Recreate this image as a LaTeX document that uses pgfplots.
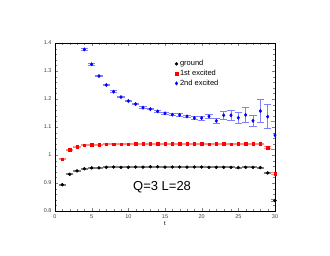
\documentclass[border=0pt]{standalone}
\usepackage{pgfplots}
\pgfplotsset{compat=1.18}
\usepackage{fontspec}
\setmainfont{Liberation Sans}
\definecolor{lblue}{rgb}{0.5,0.5,1}
\definecolor{lred}{rgb}{1,0.55,0.55}
\definecolor{lgray}{rgb}{0.5,0.5,0.5}
\begin{document}
\begin{tikzpicture}
\begin{axis}[name=ax,
  scale only axis, width=220pt, height=168pt,
  xmin=0, xmax=30, ymin=0.8, ymax=1.4,
  xtick={0,5,...,30}, ytick={0.8,0.9,...,1.4},
  yticklabels={0.8,0.9,1,1.1,1.2,1.3,1.4},
  minor x tick num=4, minor y tick num=4,
  tick align=inside, tick pos=both,
  major tick length=3pt, minor tick length=1.6pt,
  /pgf/number format/assume math mode=true,
  tick label style={font=\fontsize{5.5}{6.5}\selectfont, text=black!75},
  xlabel={t}, xlabel style={font=\fontsize{6}{7}\selectfont, yshift=4pt},
  legend style={draw=none, fill=none, at={(0.54,0.915)}, anchor=north west,
    font=\fontsize{7.5}{8.5}\selectfont, row sep=-1.2pt, inner sep=1pt},
  legend cell align=left,
  error bars/y dir=both, error bars/y explicit,
]
\addplot[only marks, mark=*, mark size=1.5pt, black,
  error bars/error bar style={lgray, line width=0.6pt},
  error bars/error mark options={rotate=90, mark size=3.6pt, lgray, line width=0.9pt}]
  table[x=t, y=v, y error=e] {
t v e
1 0.894 0.002
2 0.931 0.002
3 0.943 0.002
4 0.951 0.002
5 0.954 0.002
6 0.954 0.002
7 0.956 0.002
8 0.957 0.002
9 0.956 0.002
10 0.956 0.002
11 0.957 0.002
12 0.957 0.002
13 0.958 0.002
14 0.958 0.002
15 0.957 0.002
16 0.957 0.002
17 0.957 0.002
18 0.957 0.002
19 0.957 0.002
20 0.957 0.002
21 0.956 0.002
22 0.956 0.002
23 0.956 0.002
24 0.956 0.002
25 0.955 0.002
26 0.956 0.002
27 0.956 0.002
28 0.955 0.002
29 0.936 0.002
30 0.837 0.003
};
\addlegendentry{ground}
\addplot[only marks, mark=square*, mark size=1.3pt, red,
  error bars/error bar style={lred, line width=0.6pt},
  error bars/error mark options={rotate=90, mark size=3.6pt, lred, line width=0.9pt}]
  table[x=t, y=v, y error=e] {
t v e
1 0.985 0.002
2 1.018 0.002
3 1.029 0.002
4 1.035 0.002
5 1.037 0.002
6 1.037 0.002
7 1.039 0.002
8 1.039 0.002
9 1.039 0.002
10 1.039 0.002
11 1.040 0.002
12 1.040 0.002
13 1.041 0.002
14 1.041 0.002
15 1.040 0.002
16 1.040 0.002
17 1.040 0.002
18 1.040 0.002
19 1.040 0.002
20 1.040 0.002
21 1.039 0.002
22 1.040 0.002
23 1.040 0.002
24 1.039 0.002
25 1.040 0.002
26 1.040 0.002
27 1.040 0.002
28 1.040 0.002
29 1.026 0.003
30 0.934 0.003
};
\addlegendentry{1st excited}
\addplot[only marks, mark=diamond*, mark size=1.7pt, blue,
  error bars/error bar style={lblue, line width=0.6pt},
  error bars/error mark options={rotate=90, mark size=3.6pt, lblue, line width=0.9pt}]
  table[x=t, y=v, y error=e] {
t v e
4 1.377 0.003
5 1.324 0.003
6 1.282 0.003
7 1.250 0.003
8 1.226 0.003
9 1.207 0.003
10 1.193 0.003
11 1.182 0.003
12 1.169 0.003
13 1.164 0.003
14 1.156 0.003
15 1.149 0.004
16 1.144 0.004
17 1.143 0.004
18 1.138 0.005
19 1.132 0.005
20 1.132 0.007
21 1.138 0.008
22 1.122 0.010
23 1.142 0.015
24 1.142 0.018
25 1.133 0.019
26 1.143 0.028
27 1.122 0.020
28 1.157 0.042
29 1.137 0.043
30 1.071 0.050
};
\addlegendentry{2nd excited}
\node[font=\fontsize{13}{15}\selectfont] at (axis cs:14.6,0.885) {Q=3 L=28};
\end{axis}
\path[use as bounding box] ([xshift=-55pt,yshift=-44pt]ax.south west) rectangle ([xshift=55pt,yshift=43pt]ax.north east);
\end{tikzpicture}
\end{document}
